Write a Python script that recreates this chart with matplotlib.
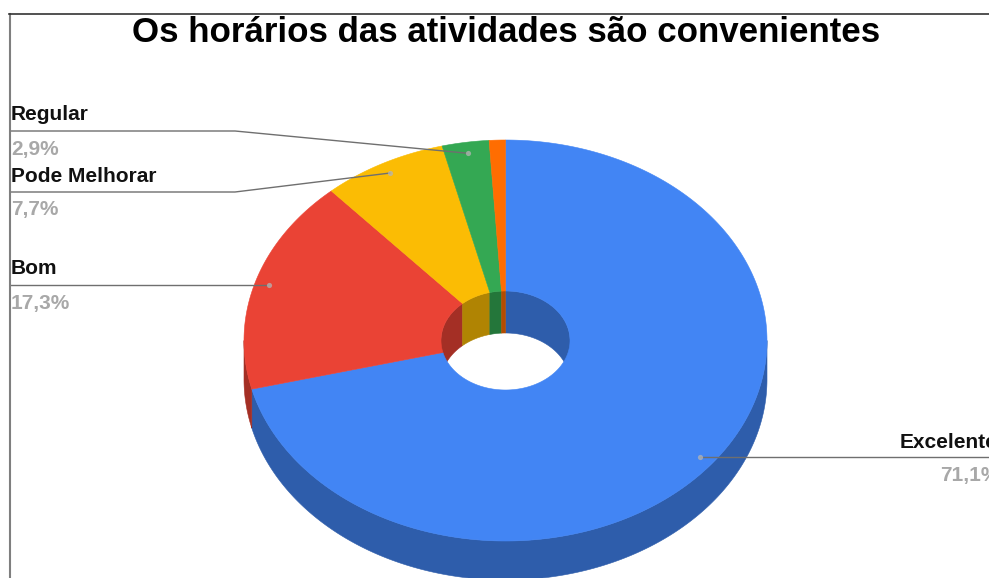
import numpy as np
import matplotlib
matplotlib.use("Agg")
import matplotlib.pyplot as plt
from matplotlib.patches import Polygon

title = "Os horários das atividades são convenientes"
categories = ["Excelente", "Bom", "Pode Melhorar", "Regular", ""]
values = [71.1, 17.3, 7.7, 2.9, 1.0]
value_labels = ["71,1%", "17,3%", "7,7%", "2,9%", ""]
top_colors = ["#4285F4", "#EA4335", "#FBBC04", "#34A853", "#FF6D01"]
side_colors = ["#2E5DAB", "#A42F25", "#B08403", "#24763A", "#B34C01"]

W, H = 989, 578
CX, CY, RX, RY = 505.5, 340.5, 261.5, 200.5
HRX, HRY = 64.5, 49.5
DEPTH = 39
HOLE_DEPTH = 42
ANCHOR_R = 0.945
LABEL_SIZE = 15

plt.rcParams["font.family"] = ["Liberation Sans", "DejaVu Sans"]
fig = plt.figure(figsize=(W / 100, H / 100), dpi=100, facecolor="white")
ax = fig.add_axes([0, 0, 1, 1])
ax.set_xlim(0, W)
ax.set_ylim(H, 0)
ax.axis("off")


def arc(a0, a1, rx, ry, dy=0.0):
    n = max(2, int(abs(a1 - a0) * 2) + 2)
    t = np.radians(np.linspace(a0, a1, n))
    return np.column_stack([CX + rx * np.sin(t), CY + dy - ry * np.cos(t)])


def shape(pts, color, z):
    ax.add_patch(Polygon(pts, closed=True, facecolor=color, edgecolor=color,
                         linewidth=0.4, zorder=z))


edges = np.concatenate([[0], np.cumsum(values)]) / np.sum(values) * 360

# outer wall (front half) and inner wall (back half of the hole)
for a0, a1, side in zip(edges[:-1], edges[1:], side_colors):
    lo, hi = max(a0, 90), min(a1, 270)
    if hi > lo:
        shape(np.vstack([arc(lo, hi, RX, RY), arc(hi, lo, RX, RY, DEPTH)]), side, 1)
    for s0, s1 in ((a0, min(a1, 90)), (max(a0, 270), a1)):
        if s1 > s0:
            shape(np.vstack([arc(s0, s1, HRX, HRY), arc(s1, s0, HRX, HRY, HOLE_DEPTH)]), side, 2)

# top face
for a0, a1, top in zip(edges[:-1], edges[1:], top_colors):
    shape(np.vstack([arc(a0, a1, RX, RY), arc(a1, a0, HRX, HRY)]), top, 3)

# leaders and labels
mids = (edges[:-1] + edges[1:]) / 2
anchors = np.column_stack([CX + ANCHOR_R * RX * np.sin(np.radians(mids)),
                           CY - ANCHOR_R * RY * np.cos(np.radians(mids))])

leader_y = {"Regular": 131, "Pode Melhorar": 192}
name_y = {"Regular": 115, "Pode Melhorar": 176, "Bom": 268, "Excelente": 443}
val_y = {"Regular": 149, "Pode Melhorar": 210, "Bom": 303, "Excelente": 476}
LINE = "#6f6f6f"
for name, vlab, (ax_, ay) in zip(categories, value_labels, anchors):
    if not name:
        continue
    if name == "Excelente":
        ax.plot([ax_, W], [ay, ay], color=LINE, lw=1.0, zorder=4)
        x_name, x_val = 900, 940
    else:
        x_name, x_val = 11, 11
        if name in leader_y:
            y = leader_y[name]
            ax.plot([10, 235, ax_], [y, y, ay], color=LINE, lw=1.0, zorder=4)
        else:
            ax.plot([10, ax_], [ay, ay], color=LINE, lw=1.0, zorder=4)
    ax.text(x_name, name_y[name], name, fontsize=LABEL_SIZE, fontweight="bold",
            color="#111111", ha="left", va="center", zorder=6)
    ax.text(x_val, val_y[name], vlab, fontsize=LABEL_SIZE, fontweight="bold",
            color="#a8a8a8", ha="left", va="center", zorder=6)
    ax.scatter([ax_], [ay], s=14, color="#b5b5b5", alpha=0.75, linewidths=0, zorder=5)

# frame
ax.plot([9.5, 9.5], [14, H], color="#7f7f7f", lw=1.5, zorder=7)
ax.plot([9, W], [14, 14], color="#333333", lw=1.2, zorder=7)

ax.text(506.5, 33, title, fontsize=25.1, fontweight="bold", color="#000000",
        ha="center", va="center", zorder=8)

fig.savefig("out.png", dpi=100, facecolor="white")
